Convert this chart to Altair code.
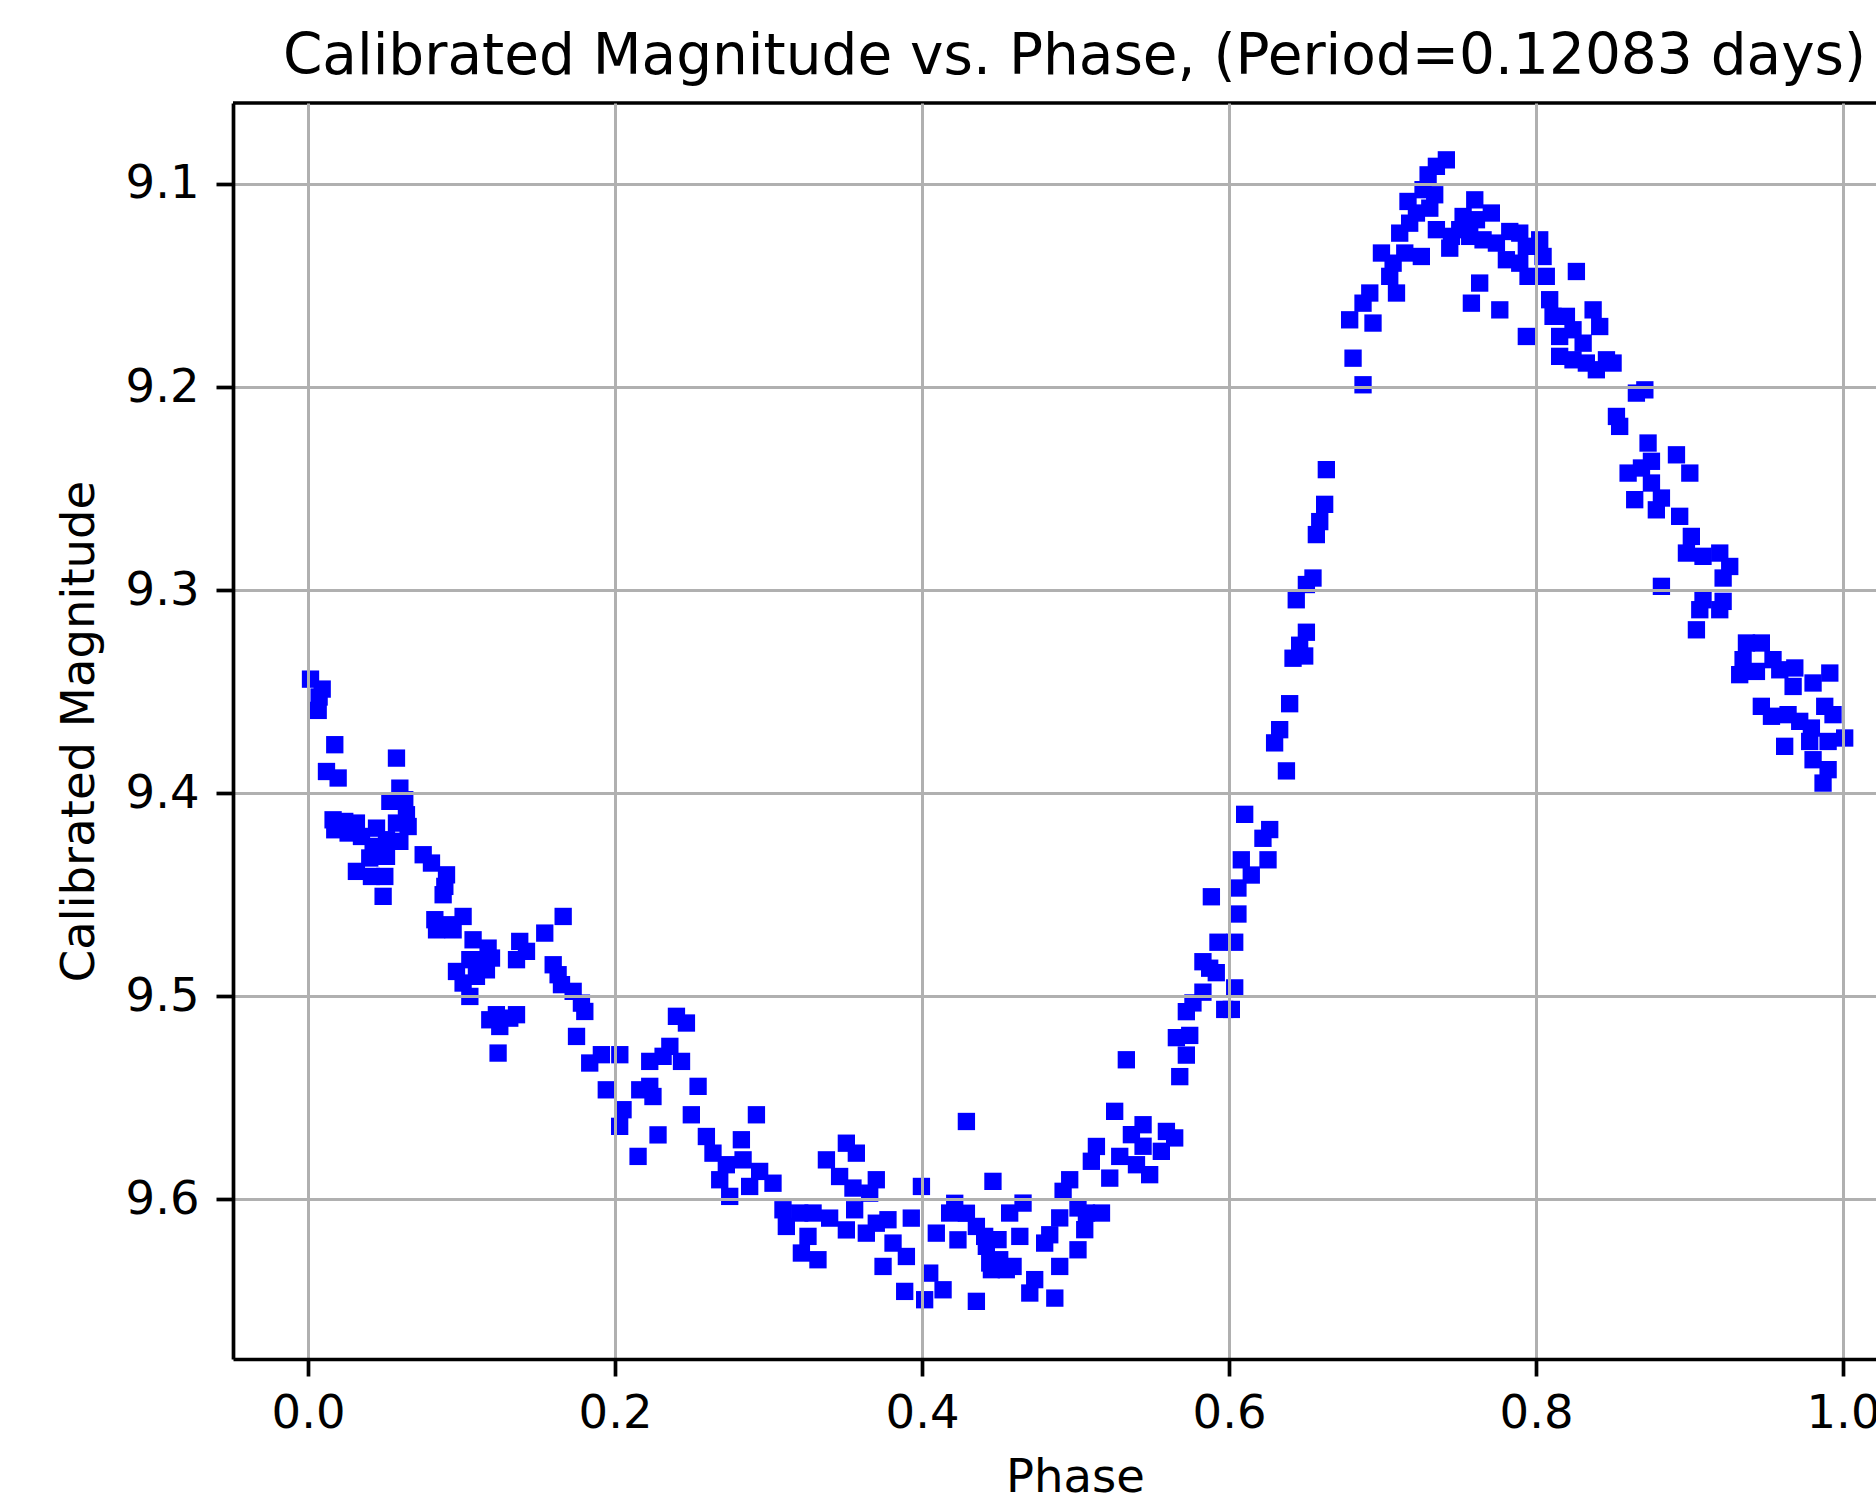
import altair as alt
import pandas as pd

phase = [
    0.0016, 0.0092, 0.0072, 0.0066, 0.0174, 0.0576, 0.0120, 0.0196, 0.0598,
    0.0163, 0.0239, 0.0315, 0.0174, 0.0261, 0.0348, 0.0446, 0.0533, 0.0630, 0.0641, 0.0576,
    0.0652, 0.0511, 0.0598, 0.0424, 0.0402, 0.0315, 0.0413, 0.0500, 0.0511, 0.0489,
    0.0750, 0.0804, 0.0902, 0.0891, 0.0880, 0.0826, 0.0902, 0.1010, 0.0837, 0.0945,
    0.1075, 0.1173, 0.1195, 0.1054, 0.0967, 0.1010, 0.1097, 0.1162, 0.1054, 0.1130,
    0.1379, 0.1423, 0.1358, 0.1542, 0.1662, 0.1597, 0.1629, 0.1651, 0.1727, 0.1781, 0.1803,
    0.1227, 0.1314, 0.1358, 0.1184, 0.1249, 0.1238, 0.1749, 0.1835, 0.1911, 0.2031,
    0.2400, 0.2465, 0.2226, 0.2357, 0.2433, 0.2313,
    0.1943, 0.2052, 0.2030, 0.2226, 0.2247, 0.2161, 0.2541, 0.2280, 0.2150, 0.2497, 0.2595, 0.2921,
    0.2638, 0.2725, 0.2682, 0.2823, 0.2834, 0.2747, 0.2942, 0.3029, 0.2877,
    0.3094, 0.3203, 0.3116, 0.3290, 0.3257, 0.3214, 0.3322, 0.3398,
    0.3507, 0.3377, 0.3463, 0.3572, 0.3550, 0.3702, 0.3659, 0.3561, 0.3507, 0.3637, 0.3702,
    0.3778, 0.3930, 0.3996, 0.3811, 0.3746, 0.3898, 0.3887, 0.4050, 0.4137, 0.4017, 0.4354, 0.4462, 0.4289,
    0.4213, 0.4289, 0.4180, 0.4093, 0.4234, 0.4354, 0.4419, 0.4506, 0.4571, 0.4549, 0.4452,
    0.5331, 0.5255, 0.5440, 0.5364, 0.5592, 0.5646, 0.5440, 0.5559, 0.5288, 0.5483, 0.5223, 0.5397, 0.5136, 0.5103,
    0.4962, 0.4919, 0.5016, 0.4897, 0.5071, 0.5169, 0.5060, 0.4832, 0.4799, 0.5016, 0.4897, 0.4865, 0.4734,
    0.4702, 0.4593, 0.4637, 0.4658, 0.4495, 0.4408, 0.4441,
    0.6634, 0.6623, 0.6591, 0.6569, 0.6547, 0.6504, 0.6438, 0.6504, 0.6460, 0.6417, 0.6493, 0.6395, 0.6330,
    0.6297, 0.6374, 0.6102, 0.6265, 0.6221, 0.6080, 0.6254, 0.6145, 0.6058, 0.5885, 0.6058, 0.5928, 0.6037,
    0.5830, 0.5917, 0.5874, 0.6037, 0.5830, 0.5765, 0.5722, 0.5972, 0.6015, 0.5657, 0.5744, 0.5722, 0.5679,
    0.7416, 0.7351, 0.7297, 0.7264, 0.7340, 0.7166, 0.7221, 0.7308, 0.7112, 0.7177, 0.7351, 0.7253, 0.7145,
    0.6993, 0.7069, 0.7047, 0.7091, 0.6917, 0.6873, 0.6786, 0.6938, 0.6808, 0.6873,
    0.7601, 0.7525, 0.7449, 0.7503, 0.7709, 0.7612, 0.7568, 0.7655, 0.7438, 0.7742, 0.7829, 0.7894, 0.7937,
    0.7807, 0.7894, 0.7948, 0.7633, 0.7579, 0.7764, 0.7937, 0.8024, 0.8046, 0.8067, 0.8263, 0.8089, 0.8111,
    0.8198, 0.8372, 0.8415, 0.8154, 0.8241, 0.8154, 0.8307, 0.8328, 0.8459, 0.8502, 0.8393, 0.8241,
    0.8654, 0.8709, 0.8524, 0.8545,
    0.8730, 0.8752, 0.8600, 0.8687, 0.8915, 0.9002, 0.8752, 0.8643, 0.8817, 0.8784, 0.8936,
    0.9012, 0.8980, 0.9088, 0.9197, 0.9262, 0.9219, 0.8817, 0.9088, 0.9219, 0.9067, 0.9045, 0.9197,
    0.9371, 0.9468, 0.9349, 0.9436, 0.9544, 0.9327, 0.9588, 0.9686,
    0.9675, 0.9805, 0.9914, 0.9881, 0.9935, 0.9468, 0.9534, 0.9642, 0.9718, 0.9794, 0.9903, 1.0011,
    0.9783, 0.9620, 0.9805, 0.9903, 0.9870,
]

magnitude = [
    9.3439, 9.3488, 9.3527, 9.3593, 9.3762, 9.3828, 9.3894, 9.3926, 9.3976,
    9.4132, 9.4140, 9.4148, 9.4181, 9.4197, 9.4214, 9.4173, 9.4041, 9.4033, 9.4107, 9.4148,
    9.4165, 9.4230, 9.4238, 9.4263, 9.4320, 9.4386, 9.4411, 9.4411, 9.4312, 9.4509,
    9.4304, 9.4345, 9.4403, 9.4460, 9.4501, 9.4624, 9.4649, 9.4608, 9.4674, 9.4674,
    9.4723, 9.4764, 9.4813, 9.4821, 9.4879, 9.4936, 9.4903, 9.4871, 9.5002, 9.4821,
    9.4731, 9.4780, 9.4821, 9.4690, 9.4608, 9.4846, 9.4895, 9.4944, 9.4977, 9.5035, 9.5076,
    9.5092, 9.5109, 9.5092, 9.5117, 9.5150, 9.5281, 9.5199, 9.5330, 9.5289, 9.5289,
    9.5100, 9.5133, 9.5322, 9.5248, 9.5322, 9.5297,
    9.5462, 9.5560, 9.5642, 9.5445, 9.5495, 9.5462, 9.5445, 9.5684, 9.5790, 9.5585, 9.5692, 9.5585,
    9.5774, 9.5831, 9.5905, 9.5708, 9.5807, 9.5987, 9.5864, 9.5922, 9.5938,
    9.6053, 9.6069, 9.6135, 9.6069, 9.6184, 9.6266, 9.6299, 9.6094,
    9.5725, 9.5807, 9.5889, 9.5774, 9.5946, 9.5905, 9.5971, 9.6053, 9.6152, 9.6168, 9.6119,
    9.6102, 9.6094, 9.5938, 9.6217, 9.6332, 9.6283, 9.6455, 9.6365, 9.6447, 9.6496, 9.6504, 9.5913, 9.5618,
    9.6021, 9.6070, 9.6069, 9.6168, 9.6201, 9.6135, 9.6233, 9.6299, 9.6069, 9.6348, 9.6348,
    9.5314, 9.5568, 9.5634, 9.5683, 9.5667, 9.5699, 9.5740, 9.5765, 9.5790, 9.5880, 9.5897, 9.5831, 9.5741, 9.5814,
    9.5905, 9.5962, 9.6044, 9.6093, 9.6069, 9.6069, 9.6151, 9.6176, 9.6217, 9.6250, 9.6332, 9.6488, 9.6397,
    9.6463, 9.6332, 9.6184, 9.6020, 9.6200, 9.6184, 9.6315,
    9.2407, 9.2578, 9.2663, 9.2727, 9.2941, 9.2973, 9.3048, 9.3208, 9.3272, 9.3336, 9.3325, 9.3560, 9.3688,
    9.3753, 9.3891, 9.4105, 9.4180, 9.4223, 9.4329, 9.4329, 9.4404, 9.4468, 9.4511, 9.4596, 9.4735, 9.4735,
    9.4831, 9.4885, 9.4863, 9.4960, 9.4981, 9.5034, 9.5077, 9.5066, 9.5066, 9.5205, 9.5194, 9.5291, 9.5397,
    9.0881, 9.0913, 9.0955, 9.1028, 9.1053, 9.1086, 9.1143, 9.1119, 9.1242, 9.1193, 9.1225, 9.1357, 9.1340,
    9.1340, 9.1390, 9.1455, 9.1537, 9.1537, 9.1587, 9.1669, 9.1685, 9.1858, 9.1989,
    9.1078, 9.1160, 9.1258, 9.1225, 9.1143, 9.1176, 9.1258, 9.1275, 9.1316, 9.1291, 9.1234, 9.1242, 9.1307,
    9.1373, 9.1390, 9.1455, 9.1488, 9.1587, 9.1620, 9.1751, 9.1275, 9.1357, 9.1455, 9.1431, 9.1570, 9.1652,
    9.1652, 9.1620, 9.1702, 9.1751, 9.1718, 9.1849, 9.1784, 9.1882, 9.1866, 9.1882, 9.1915, 9.1866,
    9.2030, 9.2014, 9.2145, 9.2194,
    9.2276, 9.2366, 9.2424, 9.2399, 9.2334, 9.2424, 9.2473, 9.2555, 9.2547, 9.2605, 9.2637,
    9.2736, 9.2818, 9.2834, 9.2818, 9.2884, 9.2941, 9.2982, 9.3048, 9.3056, 9.3097, 9.3196, 9.3097,
    9.3261, 9.3261, 9.3343, 9.3401, 9.3343, 9.3417, 9.3393, 9.3384,
    9.3475, 9.3458, 9.3409, 9.3573, 9.3614, 9.3573, 9.3622, 9.3614, 9.3647, 9.3680, 9.3746, 9.3729,
    9.3746, 9.3770, 9.3836, 9.3885, 9.3951,
]

x_ticks = [0.0, 0.2, 0.4, 0.6, 0.8, 1.0]
y_ticks = [9.1, 9.2, 9.3, 9.4, 9.5, 9.6]
chart_title = "Calibrated Magnitude vs. Phase, (Period=0.12083 days)"
x_title = "Phase"
y_title = "Calibrated Magnitude"

df = pd.DataFrame({"Phase": phase, "Magnitude": magnitude})

W, H = 1643, 1256
FONT = "DejaVu Sans"
FS = 46.5

points = alt.Chart(df).mark_point(
    shape="square", filled=True, size=300, color="#0000ff", opacity=1, strokeWidth=0
).encode(
    x=alt.X(
        "Phase:Q",
        scale=alt.Scale(domain=[-0.0489, 1.0215], nice=False, zero=False),
        axis=alt.Axis(
            values=x_ticks, format=".1f", title=x_title,
            labelPadding=14, titleX=842, titleY=132, titleBaseline="alphabetic",
            titleAlign="center", zindex=1,
        ),
    ),
    y=alt.Y(
        "Magnitude:Q",
        scale=alt.Scale(domain=[9.0601, 9.6788], reverse=True, nice=False, zero=False),
        axis=alt.Axis(
            values=y_ticks, format=".1f", title=y_title,
            labelPadding=17, titleX=-140, titleY=H / 2, titleBaseline="alphabetic",
            titleAlign="center", titleAngle=270, zindex=1,
        ),
    ),
)

frame = alt.Chart(pd.DataFrame({"k": [0]})).mark_rule(
    color="black", strokeWidth=3.7
).encode(x=alt.value(0), x2=alt.value(W), y=alt.value(0))

chart = (
    alt.layer(points, frame)
    .properties(
        width=W,
        height=H,
        title=alt.TitleParams(
            text=chart_title, font=FONT, fontSize=56.5, fontWeight="normal",
            color="black", anchor="middle", dx=20, offset=16,
        ),
        autosize=alt.AutoSizeParams(type="none"),
        padding={"left": 233, "top": 103, "right": 0, "bottom": 140},
        background="white",
    )
    .configure_view(strokeWidth=0)
    .configure_axis(
        labelFont=FONT, labelFontSize=FS, labelColor="black",
        titleFont=FONT, titleFontSize=FS, titleFontWeight="normal", titleColor="black",
        domainColor="black", domainWidth=3.7,
        tickColor="black", tickWidth=3.7, tickSize=17,
        gridColor="#b0b0b0", gridWidth=3, gridOpacity=1,
    )
)

chart.save("out.html", embed_options={"renderer": "svg", "actions": False})
